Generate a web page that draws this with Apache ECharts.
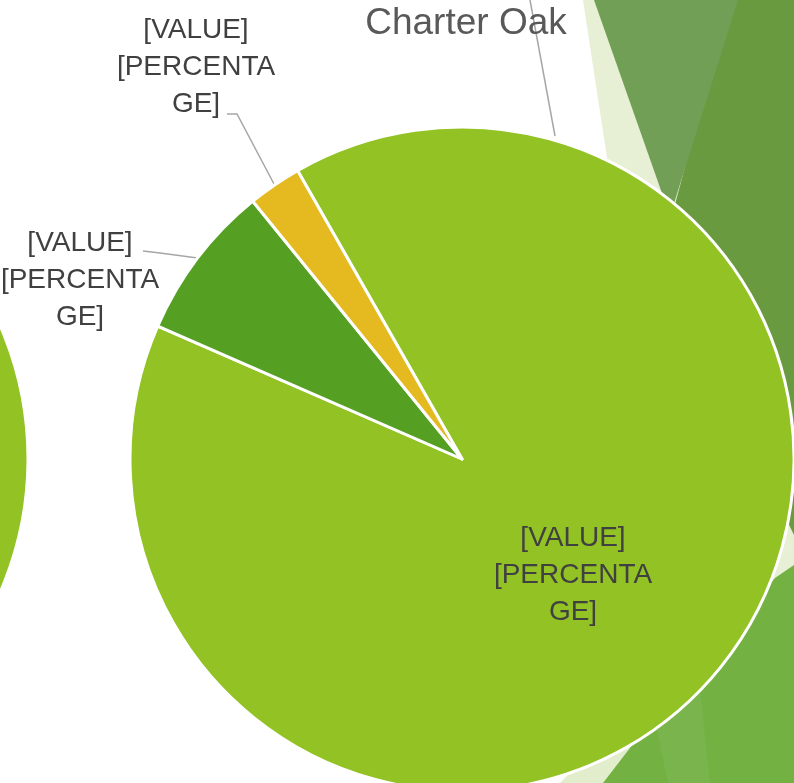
<!DOCTYPE html>
<html>
<head>
<meta charset="utf-8">
<script src="https://cdn.jsdelivr.net/npm/echarts@6/dist/echarts.min.js"></script>
<style>
  html, body { margin: 0; padding: 0; background: #fff; }
  #chart { width: 794px; height: 783px; }
</style>
</head>
<body>
<div id="chart"></div>
<script>
// pie data (percentages of the circle)
const categories = ['Charter Oak A', 'Charter Oak B', 'Charter Oak C'];
const sliceValues = [89.8, 7.6, 2.6];
const sliceColors = ['#92C224', '#55A023', '#E5B920'];
const labelText = '[VALUE]\n[PERCENTA\nGE]';
// the neighbouring chart on the slide, only its edge shows
const neighbourValues = [100];

// where each label sits and how its leader bends
const labelPos = [
  { x: 573, y: 575, bend: null },
  { x: 80, y: 280, bend: [[160, 253], [143, 251]] },
  { x: 196, y: 67, bend: [[237, 114], [227, 114]] }
];

const chart = echarts.init(document.getElementById('chart'), null, { renderer: 'canvas' });

const FONT = '"Liberation Sans", Arial, sans-serif';

// facet-style background shapes on the right of the slide
const deco = [
  { points: [[583, 0], [794, 0], [794, 783], [702, 783]], fill: '#E7F0D4' },
  { points: [[560, 783], [640, 700], [700, 783]], fill: '#E1EDCB' },
  { points: [[730, 0], [794, 0], [794, 535], [660, 260]], fill: '#6A9A3F' },
  { points: [[594, 0], [738, 0], [670, 216]], fill: '#729F56' },
  { points: [[603, 783], [794, 783], [794, 565], [775, 578], [640, 735]], fill: '#73B143' },
  { points: [[655, 720], [700, 690], [710, 783], [668, 783]], fill: '#79B54C' }
];

chart.setOption({
  backgroundColor: '#ffffff',
  animation: false,
  title: {
    text: 'Charter Oak',
    left: 461,
    top: 0,
    textAlign: 'center',
    textStyle: { fontFamily: FONT, fontSize: 37, fontWeight: 'normal', color: '#595959' }
  },
  graphic: deco.map(d => ({
    type: 'polygon',
    z: -10,
    silent: true,
    shape: { points: d.points },
    style: { fill: d.fill }
  })).concat([{
    type: 'polyline',
    z: 1,
    silent: true,
    shape: { points: [[530, 0], [555, 136]] },
    style: { stroke: '#A6A6A6', lineWidth: 1.5, fill: null }
  }]),
  series: [
    {
      type: 'pie',
      center: [-304, 459],
      radius: 332,
      silent: true,
      label: { show: false },
      labelLine: { show: false },
      itemStyle: { color: '#92C224', borderColor: '#fff', borderWidth: 3 },
      data: neighbourValues.map(v => ({ value: v }))
    },
    {
      type: 'pie',
      center: [462, 459],
      radius: 332,
      startAngle: 119.7,
      clockwise: true,
      avoidLabelOverlap: false,
      silent: true,
      itemStyle: { borderColor: '#fff', borderWidth: 3 },
      label: {
        show: true,
        formatter: () => labelText,
        fontFamily: FONT,
        fontSize: 28,
        lineHeight: 37,
        color: '#404040',
        align: 'center'
      },
      labelLine: {
        show: true,
        length: 20,
        length2: 10,
        smooth: false,
        lineStyle: { color: '#A6A6A6', width: 1.5 }
      },
      labelLayout: function (params) {
        const p = labelPos[params.dataIndex];
        if (!p) return {};
        const out = { x: p.x, y: p.y, align: 'center', verticalAlign: 'middle' };
        if (p.bend && params.labelLinePoints) {
          out.labelLinePoints = [params.labelLinePoints[0]].concat(p.bend);
        }
        return out;
      },
      data: categories.map((name, i) => ({
        name: name,
        value: sliceValues[i],
        itemStyle: { color: sliceColors[i] },
        label: i === 0 ? { position: 'inner' } : {},
        labelLine: i === 0 ? { show: false } : {}
      }))
    }
  ]
});
</script>
</body>
</html>
